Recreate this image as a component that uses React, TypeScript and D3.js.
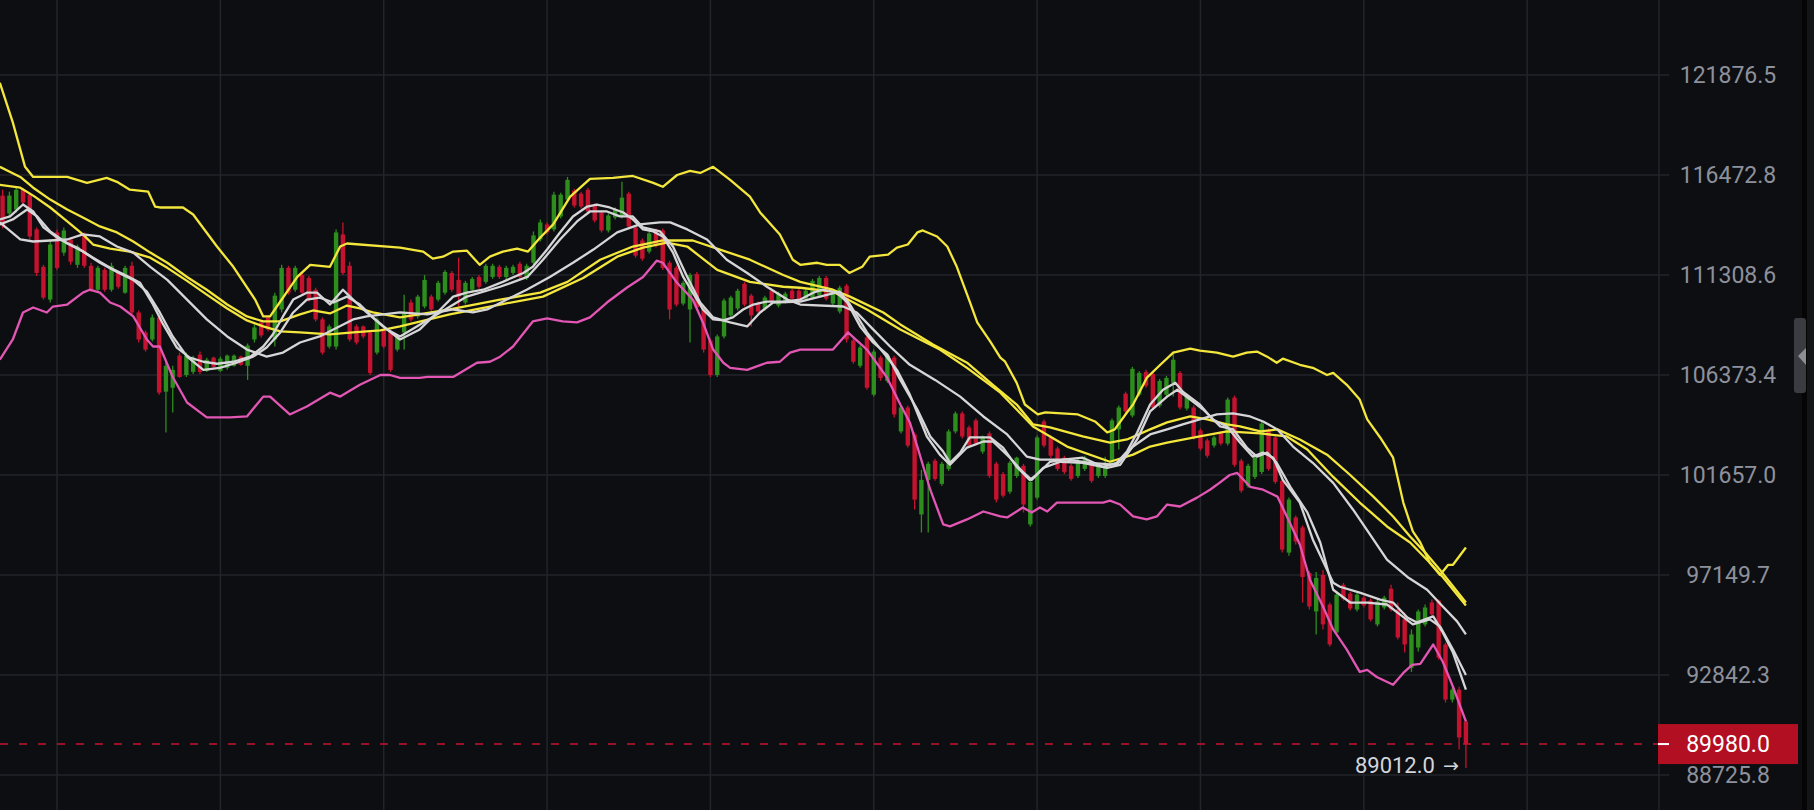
import React, { useEffect } from "react";
import * as d3 from "d3";

// ---------- data ----------
const priceTicks = [121876.5, 116472.8, 111308.6, 106373.4, 101657.0, 97149.7, 92842.3, 88725.8];
const lastPrice = 89980.0;
const lowestPrice = 89012.0;

const openP = [115389,114459,114665,115698,115440,113633,111722,110075,113478,112445,113116,111825,113323,111774,110568,111567,110568,111412,110420,111774,109433,108447,108101,109187,105571,105760,107312,106373,106522,107361,106571,107213,106571,106719,106818,107262,106818,108101,108940,109187,108101,109581,111670,110568,111309,111161,110568,109088,107756,107756,113375,111774,108743,108743,108447,107460,108595,108447,107608,108447,109927,109236,109729,110223,110075,110420,111412,111062,109927,110568,111210,110963,111210,111722,111210,111412,111877,111161,111928,113116,113891,113633,114304,115182,115647,115492,115698,114872,114510,113581,114252,114304,115492,113736,113065,112497,113581,113581,111928,111670,109878,109581,111360,109680,108052,106373,108249,109285,109631,110865,110272,109878,109631,110519,109779,109976,110519,110519,110124,110174,110272,111161,109878,109483,110766,108052,106818,108200,105430,107213,106090,107213,103685,104817,103544,99854,101432,102317,101251,101939,103685,104534,103873,104204,102741,103591,102175,101704,100891,101612,102081,99403,100620,104156,103402,102883,102458,102081,101612,101939,102222,101612,101612,102270,103779,105477,104440,105430,106522,106423,104911,105430,105996,106472,104770,104817,103732,103260,103025,103591,103119,105288,102317,101161,101567,101798,103732,103402,101387,98141,99719,99268,97240,95556,97150,95858,94652,96719,96332,95642,96159,96030,94996,95729,96547,95642,95212,93144,94006,94996,95944,96030,94135,91813,92225,90907];
const highP = [115698,115595,115853,115802,115544,113736,111825,113116,113633,113736,113220,112858,113478,111928,111774,111670,111928,111515,111774,111980,109532,108545,109335,109335,107015,106818,107460,107460,107312,107509,107213,107262,107262,107361,107361,107312,107904,108841,109039,109285,110420,111825,111774,111774,111412,111259,110667,109187,108841,113633,113994,111980,108841,108792,108545,109187,108693,108545,108348,110322,110075,110322,111309,110322,111013,111567,111515,112187,111013,111210,111309,111877,111877,111825,111774,111825,111980,111877,113529,114149,113994,115595,115544,116370,115750,115595,115802,114975,114614,114459,114769,116112,115595,113839,113168,113529,113684,113684,112032,111774,111013,111412,111464,109779,108151,108348,110124,110272,110618,110963,110371,109976,110272,110618,110470,110470,110618,110618,110618,111111,111259,111259,110470,110766,110865,108151,107805,108299,107608,107312,107410,107312,104911,104911,103638,101892,102270,102411,102270,103779,104628,104628,103968,104298,103496,103685,102270,101798,102317,102506,102175,101432,103496,104251,103496,102977,102553,102175,102411,102553,102317,102175,102506,104298,104911,105571,106769,106571,106621,106522,106184,106326,107509,106571,105477,104911,103827,103355,103496,103685,105288,105383,102411,102175,102553,104156,103827,103496,101477,100620,99809,99358,97330,97285,97375,95944,96418,96805,96418,96375,96245,96116,96073,96245,96719,95944,95513,94781,95642,95858,96073,96073,94221,92307,92348,90989];
const lowP = [113684,114252,114510,114924,113116,111259,110075,109927,111567,112290,111825,111670,111670,110470,110470,110470,110470,110618,110371,109335,107953,107509,108003,105430,103638,104581,106232,106279,106423,106423,106522,106719,106522,106621,106769,106818,106137,107953,108200,108496,107756,109433,110322,110470,110322,109976,108989,107361,107657,107608,111309,108003,107854,108151,106373,107361,107657,106522,107509,107608,108989,109137,109631,109483,109976,110322,110470,109729,109828,110470,110618,110865,111111,111111,111111,111309,111111,111062,111825,113013,113375,113529,114201,115027,114769,114717,114459,113994,113478,113478,114149,114201,113684,112187,112032,112393,112703,111567,109088,109729,109779,107953,109581,107460,106279,106279,108151,109187,109532,109729,108743,109384,109532,109878,109680,109878,110026,109878,110026,110075,110174,110026,109779,109384,107953,106917,106719,105666,105336,106090,105996,104345,103591,102930,100080,99043,99043,101387,101161,101845,103591,103355,102930,103025,102647,101522,100395,100620,100801,101522,99944,99313,100530,102930,102458,101845,101704,101387,101522,101845,101296,101522,101522,102175,102836,104487,104345,105336,105760,104722,104817,105336,105336,104722,104675,103308,102789,102458,102930,103025,103025,102034,100846,101071,101477,101704,101845,101251,98141,98006,98502,95944,95642,94566,94781,94049,94566,96030,95599,95556,95729,95126,94910,95642,95556,94350,93790,92972,93834,94910,95341,93489,91689,91689,89754,89012];
const closeP = [113839,115389,115698,115027,113271,111412,110174,112858,111670,113581,111980,112755,111774,110568,111670,110568,111774,110717,111670,109433,108101,107608,109187,105524,106818,106621,106279,107312,107213,106522,107114,106769,107163,107312,107312,106867,107805,108693,108299,108595,110272,111670,110420,111670,110420,110075,109088,107460,108743,113478,111412,108101,107953,108249,106472,109088,107756,106621,108249,109433,109088,110223,111062,109581,110914,111464,110568,110223,110914,111111,110717,111774,111774,111210,111670,111722,111210,111774,113323,113994,113478,115440,115440,116215,114872,114820,114562,114097,113581,114356,114665,115285,113788,112290,112135,113426,112807,111670,109581,109828,110914,111309,109680,107608,106373,108249,110026,110174,110519,109828,109285,109483,110174,109976,110371,110371,110124,109976,110519,111013,111161,110124,110371,110667,108101,107015,107706,105760,107509,106232,107312,104487,104817,103025,100530,101432,102175,101477,102175,103685,104534,103449,103025,103119,103402,101612,100530,100711,102222,102458,100305,101342,103402,103025,102553,101939,101798,101477,102317,102458,101387,102081,102222,104204,104817,104628,106670,106472,105854,104817,106090,106232,107114,104817,105383,103402,102883,102553,103402,103119,105194,102128,100936,102081,102458,104062,101939,101342,98277,100530,98637,97064,95772,97021,94996,94135,96289,96116,95685,96289,95815,95212,95987,96159,95642,94437,94135,94566,95556,95729,95427,93575,91813,92225,90248,89980];

// Indicator lines: [candle index, price] vertices
const upperBand: [number, number][] = [[-0.4,121445],[1.5,119283],[3.3,116905],[4.5,116370],[9.5,116370],[12.4,116060],[15.3,116318],[16.8,116112],[18.7,115698],[21.4,115595],[22.4,114820],[23.1,114769],[26.5,114769],[28,114407],[31.5,112755],[33.9,111722],[37.1,110075],[38.3,109236],[39.3,109236],[40.3,109729],[43.3,111210],[45.2,111825],[48.1,111722],[49.6,112755],[50.6,112910],[58.4,112703],[61.8,112497],[63.2,112135],[64.7,112238],[66.2,112497],[68.2,112548],[70.1,111825],[71.6,112238],[73.5,112497],[75.6,112652],[77.2,112497],[79,113220],[80.9,113891],[83.4,115337],[86.3,116266],[89.7,116318],[92.6,116421],[95.6,116060],[97,115853],[99.1,116473],[101,116689],[102.5,116581],[104.4,116905],[106.9,116215],[109.8,115337],[111.3,114510],[114.2,113375],[116.1,112084],[117.2,111825],[119.7,111928],[121.1,111825],[123,111825],[124.4,111412],[126.3,111722],[127.4,112238],[130.1,112342],[131.4,112703],[133,112858],[134.4,113478],[135.2,113581],[137.3,113271],[138.8,112755],[140.2,111722],[142.1,109976],[143.2,108940],[145.1,108003],[146.6,107213],[147.3,107015],[149,105996],[150.2,104959],[152.1,104487],[153.2,104581],[158,104487],[160.5,104156],[162.3,103638],[163.4,103780],[165.2,104581],[166.1,104959],[168.1,106232],[170.1,106867],[172,107460],[174.5,107657],[175.9,107558],[178.4,107460],[180.8,107262],[182.8,107460],[184.3,107509],[185.8,107262],[187.2,106966],[188.1,107163],[190.6,106867],[192.5,106719],[194.6,106373],[195.5,106472],[197.5,105902],[199.4,105194],[200.5,104251],[202.4,103402],[204.3,102458],[205.8,100395],[207.2,99088],[208.3,98592],[209.7,97691],[211.2,97150],[212.4,97601],[213.1,97601],[215,98367]];

const maYellowA: [number, number][] = [[-0.4,116905],[2.6,116370],[4.5,115802],[7,115182],[9.5,114665],[11.8,114252],[14.3,113788],[16.8,113478],[19.2,113013],[21.7,112445],[24.2,111928],[27.1,111210],[30,110568],[33,109828],[35.9,109236],[38.3,108989],[40.8,108989],[43.7,109335],[45.6,109532],[48.1,109384],[50.6,109779],[52.5,109631],[54.4,109433],[58.4,109187],[65.7,109581],[73.1,110075],[79,110420],[83,110963],[87.8,112084],[92.6,112755],[97,113065],[101.4,113065],[105.4,112600],[109.8,112084],[114.7,111309],[117.2,110963],[122,110568],[124.5,110223],[129.4,109433],[131.9,108841],[136.7,107854],[141.7,106966],[145.5,105902],[149,104959],[151.4,104015],[153.9,103873],[158.7,103449],[162.7,103166],[165.2,103308],[168.6,103780],[171.1,104110],[174.5,104392],[177,104251],[179.9,104015],[181.8,103921],[184.8,103685],[187.3,103780],[190.6,103308],[194.6,102600],[198,101657],[201.4,100665],[204.3,99764],[206.8,98863],[209.3,98051],[211.2,97375],[215,95944]];

const maYellowB: [number, number][] = [[-0.4,115956],[2.6,115802],[4.5,115389],[7,114769],[9.5,114046],[11.8,113375],[13.3,112858],[15.8,112652],[18.7,112497],[21.7,112187],[24.2,111670],[27.1,111013],[30,110322],[33,109631],[35.9,109039],[38.3,108743],[40.8,108496],[43.7,108447],[48.1,108348],[51.5,108447],[55.5,108545],[58.4,108743],[65.7,109335],[73.1,109828],[79.4,110223],[85.3,111161],[90.3,112238],[94.1,112703],[97.6,112961],[100.6,112755],[105,111567],[109.8,110963],[114.7,110717],[117.2,110667],[122,110470],[127,109581],[131.9,108595],[137.7,107608],[141.7,106719],[146.6,105524],[151.4,103921],[156.4,102977],[162.7,102270],[166.1,102600],[168.6,102977],[171.1,103166],[175.9,103449],[179.9,103685],[184.8,103591],[188.7,103449],[191.7,102836],[195.5,101567],[199.4,100395],[203.4,99313],[206.8,98592],[209.7,97691],[211.6,97064],[215,95815]];

const maWhite1: [number, number][] = [[-0.4,114149],[1.1,114304],[3,114924],[4.5,114562],[6,113736],[8.4,113116],[10.9,112703],[13.3,112187],[15.8,111670],[18.3,111259],[20.2,110914],[22.1,109828],[23.6,108841],[25.6,107706],[27.5,107213],[29.5,107015],[31.5,106917],[33.9,107015],[36.4,107262],[38.3,107756],[39.7,108348],[41.2,109236],[42.7,110075],[44.7,110420],[46.2,110420],[48.1,109828],[50,110568],[51.5,110075],[53.5,109433],[55.9,108743],[58.4,108101],[61.3,108595],[64.3,109581],[66.2,110223],[68.2,110420],[70.6,110568],[73.5,110963],[76.5,111412],[77.9,111722],[80,112600],[81.9,113478],[83.8,114304],[85.9,114820],[87.3,114924],[89.2,114769],[91.2,114510],[92.6,114149],[94.1,113633],[95.6,113529],[97,113271],[98.5,112445],[100,111210],[101.4,110420],[102.9,109581],[104.4,109088],[105.9,109039],[107.3,109187],[108.8,109581],[110.3,109828],[112.3,109976],[114.7,109976],[117.2,110075],[119.1,110420],[120.5,110568],[122.6,110420],[124.1,109927],[126,108743],[127.9,107953],[130,107361],[131.9,106137],[134.4,104722],[136.3,103449],[138.2,102741],[139.2,102222],[140.7,102695],[142.1,103402],[145.1,103402],[147,102930],[149,102034],[150.9,101432],[151.9,101657],[153.9,102270],[155.8,102365],[158.7,102458],[161.7,102034],[163.7,102222],[165.2,102741],[166.7,103638],[168.6,104959],[170.5,105666],[172.3,105996],[173.4,105571],[175.9,104959],[177.8,104251],[179.9,103921],[181.8,103166],[183.7,102506],[185.2,102695],[186.7,102458],[188.1,101432],[190.6,100395],[192.5,98727],[195.5,96805],[196.5,96633],[199.4,96375],[202.4,96073],[204.3,95944],[206.4,95298],[207.8,95083],[210.2,95341],[211.6,94652],[213.1,93790],[215,92225]];

const maWhite2: [number, number][] = [[-0.4,113891],[1.5,114149],[3.6,114665],[5.1,114304],[7,113529],[9.5,112910],[11.8,112497],[14.3,111928],[16.8,111464],[19.2,111062],[21.2,110470],[23.1,109433],[25,108249],[27.1,107262],[29.5,106621],[31.9,106719],[34.4,106966],[36.8,107262],[38.8,107706],[40.8,108447],[42.7,109433],[44.7,110075],[46.6,110174],[48.6,109927],[50.6,110223],[52.5,109828],[54.4,109187],[56.5,108595],[58.4,108249],[64.3,109433],[68.2,110223],[73.1,110717],[77.1,111210],[79.4,112084],[81.9,113116],[84.4,114046],[86.3,114562],[88.8,114562],[90.7,114304],[92.6,114304],[94.1,113736],[96.6,113529],[98.5,112755],[100.6,111210],[102.5,109927],[104.4,109187],[106.9,108940],[109.4,108743],[111.3,109433],[113.2,109927],[117.2,109976],[120.1,110223],[123,110470],[124.5,109828],[127,108447],[129.4,107460],[131.4,106621],[133.3,105430],[135.8,103449],[137.7,102600],[139.2,102128],[141.7,102930],[144.1,103213],[145.5,103213],[148,102458],[149.9,101798],[151.2,101432],[152.9,101987],[155.4,102270],[158.7,102222],[162.3,101987],[164.2,102128],[166.7,103308],[168.6,104628],[171.1,105336],[172.6,105666],[174.5,105194],[176.4,104722],[178.9,103921],[180.8,103780],[182.8,102930],[184.3,102506],[185.8,102695],[187.2,102222],[189.2,101116],[191.7,99944],[193.6,98592],[195.5,96503],[198,95944],[200.5,95944],[203.4,95858],[205.3,95427],[207.2,94996],[209.7,95212],[211.2,94910],[213.1,93919],[215,92842]];

const maWhite3: [number, number][] = [[-0.4,113994],[2.6,113116],[4.5,113013],[9.5,113116],[11.8,113375],[14.3,113271],[16.8,112755],[19.2,112445],[21.7,111722],[24.2,111062],[27.1,110075],[30,109088],[33,108249],[35.9,107608],[38.8,107262],[41.2,107460],[43.7,107953],[46.6,108249],[48.6,108595],[51.5,109088],[53.5,109236],[58.4,109433],[62.4,109335],[66.2,109581],[69.1,109433],[71.2,109581],[74.1,110075],[77,110568],[80.4,111210],[83.8,111928],[86.8,112600],[90.3,113478],[93.6,113891],[96.6,113994],[98.1,113994],[100.6,113633],[103.5,113116],[106.4,112084],[109.4,111412],[112.3,110717],[115.3,110075],[117.2,109828],[123.5,109729],[125.5,109433],[127.9,108595],[130.4,107756],[133.3,106867],[137,106137],[140.7,105336],[144.1,104392],[147.6,103544],[150.5,102506],[152.4,102365],[156.4,102365],[159.8,102222],[163.7,102128],[166.1,102977],[168.6,103544],[171.1,103780],[173.4,104015],[175.9,104251],[178.4,104487],[180.8,104534],[183.3,104392],[185.2,104156],[187.3,103780],[189.6,102977],[192.5,102222],[195.5,101296],[198.4,100080],[200.9,98953],[203.4,97826],[206.4,97064],[209.3,96503],[211.6,95772],[213.7,95126],[215,94566]];

const lowerBand: [number, number][] = [[-0.4,107114],[1.5,108101],[3,109433],[4.5,109680],[6.5,109433],[7.4,109729],[9.5,109828],[11.8,110420],[12.8,110568],[14.3,110420],[15.8,109927],[17.3,109729],[19.2,109236],[21.2,108101],[22.1,107756],[23.1,107756],[25,106279],[27.1,105053],[30,104345],[33.4,104345],[35.9,104392],[38.3,105336],[39.3,105336],[42.2,104487],[44.7,104864],[48.1,105524],[49.6,105336],[52.5,105902],[55.5,106373],[56.9,106373],[58.4,106232],[61.3,106232],[62.4,106279],[66.2,106279],[69.7,106966],[71.6,107015],[73.1,107262],[75,107756],[77.9,108989],[80,109137],[82.3,108989],[84.4,108940],[86.3,109187],[88.8,109927],[91.7,110667],[94.1,111210],[96.1,112032],[97,111928],[99.1,110914],[101.4,110075],[102.9,108940],[104.4,107608],[105.9,106966],[106.9,106719],[109.4,106621],[112.3,106966],[114.2,107015],[115.7,107460],[117.2,107608],[122,107608],[124.2,108447],[127,107608],[129.9,106279],[131.9,104959],[133.3,104110],[134.4,102977],[136.3,100981],[138.2,99403],[139.2,99313],[141.7,99629],[144.1,99989],[146.6,99764],[147.6,99719],[149.9,100170],[151.2,99944],[152.4,100170],[153.5,99989],[154.9,100395],[161.7,100395],[162.7,100485],[164.2,100305],[166.1,99764],[168.1,99629],[169.6,99764],[171.1,100305],[173,100215],[175.5,100620],[177.4,100981],[178.4,101206],[180.3,101657],[181.4,101751],[183.3,101116],[185.2,100981],[187.3,100665],[188.7,99764],[190.6,98502],[192.1,96934],[194,95772],[195.5,94781],[197.5,93919],[199.4,92972],[200.5,93058],[201.9,92760],[204.3,92431],[205.8,92929],[207.1,93273],[208.3,93316],[210.2,94135],[211.6,93403],[213.1,92348],[215,90907]];

// ---------- styles ----------
const BG = "#0d0e11";
const GRID = "#23252a";
const AXIS_TEXT = "#8d919c";
const UP = "#2d8d1d";
const DOWN = "#c5132f";
const YELLOW = "#f3e63c";
const WHITE = "#d6d6d8";
const PINK = "#e256b4";
const FONT = "Roboto, 'Noto Sans', sans-serif";

export default function App() {
  useEffect(() => {
    document.body.style.margin = "0";
    document.body.style.background = BG;
  }, []);

  const W = 1814;
  const H = 810;
  const plotRight = 1659;
  const n = closeP.length;

  const x = d3.scaleLinear().domain([-0.38, 243.37]).range([0, plotRight]);
  const y = d3.scaleLog().domain([88725.8, 121876.5]).range([775, 75]);
  const line = d3
    .line<[number, number]>()
    .x((d) => x(d[0]))
    .y((d) => y(d[1]));

  const vGrid = d3.range(8, 243, 24);
  const bodyW = 4.4;
  const lastY = y(lastPrice);

  const lines: { data: [number, number][]; color: string }[] = [
    { data: upperBand, color: YELLOW },
    { data: maYellowA, color: YELLOW },
    { data: maYellowB, color: YELLOW },
    { data: maWhite3, color: WHITE },
    { data: maWhite2, color: WHITE },
    { data: maWhite1, color: WHITE },
    { data: lowerBand, color: PINK },
  ];

  return (
    <svg
      width={W}
      height={H}
      style={{ display: "block", position: "absolute", left: 0, top: 0, background: BG }}
    >
      <defs>
        <clipPath id="plot">
          <rect x={0} y={0} width={plotRight} height={H} />
        </clipPath>
      </defs>
      <rect x={0} y={0} width={W} height={H} fill={BG} />

      {/* grid */}
      {priceTicks.map((t) => (
        <line key={"h" + t} x1={0} x2={plotRight + 10} y1={y(t)} y2={y(t)} stroke={GRID} strokeWidth={1.5} />
      ))}
      {vGrid.map((i) => (
        <line key={"v" + i} x1={x(i)} x2={x(i)} y1={0} y2={H} stroke={GRID} strokeWidth={1.5} />
      ))}
      <line x1={plotRight} x2={plotRight} y1={0} y2={H} stroke={GRID} strokeWidth={1.5} />

      <g clipPath="url(#plot)">
        {/* candles */}
        {closeP.map((c, i) => {
          const o = openP[i];
          const up = c >= o;
          const col = up ? UP : DOWN;
          const top = y(Math.max(o, c));
          const bot = y(Math.min(o, c));
          return (
            <g key={"c" + i}>
              <line x1={x(i)} x2={x(i)} y1={y(highP[i])} y2={y(lowP[i])} stroke={col} strokeWidth={1.3} />
              <rect x={x(i) - bodyW / 2} y={top} width={bodyW} height={Math.max(1, bot - top)} fill={col} />
            </g>
          );
        })}

        {/* indicator lines */}
        {lines.map((l, k) => (
          <path key={"l" + k} d={line(l.data) || ""} fill="none" stroke={l.color} strokeWidth={2.3} strokeLinejoin="round" />
        ))}

        {/* last price dashed line */}
        <line x1={0} x2={plotRight} y1={lastY} y2={lastY} stroke={DOWN} strokeWidth={1.5} strokeDasharray="8 11" />
      </g>

      {/* lowest price label */}
      <text
        x={x(n - 1) - 31}
        y={y(lowestPrice) + 5}
        textAnchor="end"
        fill="#d2d5dc"
        fontSize={22}
        fontFamily={FONT}
      >
        {lowestPrice.toFixed(1)}
      </text>
      <text
        x={x(n - 1) - 7}
        y={y(lowestPrice) + 4}
        textAnchor="end"
        fill="#d2d5dc"
        fontSize={19}
        fontFamily="'DejaVu Sans', sans-serif"
      >
        {"\u2192"}
      </text>

      {/* price axis labels */}
      {priceTicks.map((t) => (
        <text
          key={"t" + t}
          x={1728}
          y={y(t)}
          dy="0.35em"
          textAnchor="middle"
          fill={AXIS_TEXT}
          fontSize={23}
          fontFamily={FONT}
        >
          {t.toFixed(1)}
        </text>
      ))}

      {/* last price tag */}
      <rect x={plotRight - 1} y={lastY - 20} width={140} height={40} fill="#b30f22" />
      <line x1={plotRight - 1} x2={plotRight + 10} y1={lastY} y2={lastY} stroke="#ffffff" strokeWidth={2} />
      <text x={1728} y={lastY} dy="0.36em" textAnchor="middle" fill="#ffffff" fontSize={23} fontFamily={FONT}>
        {lastPrice.toFixed(1)}
      </text>

      {/* right edge scrollbar */}
      <rect x={1802} y={0} width={5} height={H} fill="#050506" />
      <rect x={1807} y={0} width={7} height={H} fill="#141518" />
      <rect x={1794} y={318} width={12} height={75} rx={3} fill="#3b3c41" />
      <path d="M1798,356 L1806,348 L1806,365 Z" fill="#8e8f95" />
    </svg>
  );
}
